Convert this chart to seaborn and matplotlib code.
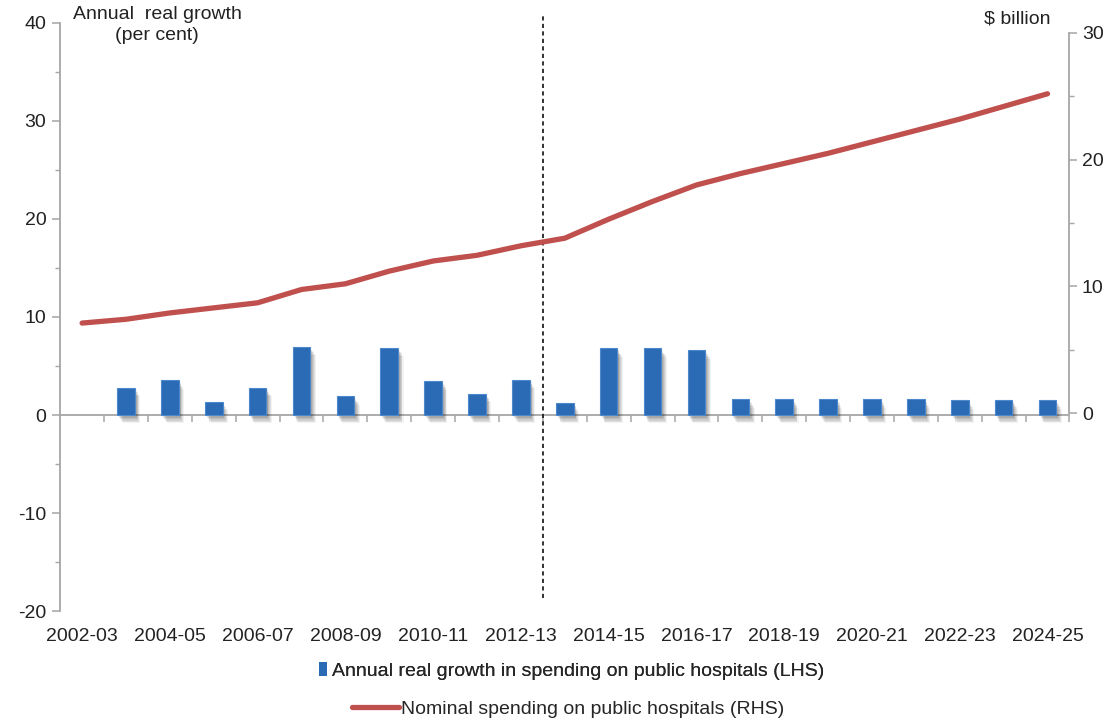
import numpy as np
import pandas as pd
import matplotlib
matplotlib.use("Agg")
import matplotlib.pyplot as plt
import matplotlib.patheffects as pe
from matplotlib.patches import Patch
from matplotlib.lines import Line2D
from matplotlib.ticker import MultipleLocator, FixedLocator
import seaborn as sns

years = ["2002-03", "2003-04", "2004-05", "2005-06", "2006-07", "2007-08",
         "2008-09", "2009-10", "2010-11", "2011-12", "2012-13", "2013-14",
         "2014-15", "2015-16", "2016-17", "2017-18", "2018-19", "2019-20",
         "2020-21", "2021-22", "2022-23", "2023-24", "2024-25"]
real_growth = [np.nan, 2.75, 3.55, 1.35, 2.75, 6.95, 1.9, 6.85, 3.45, 2.15,
               3.6, 1.2, 6.8, 6.8, 6.6, 1.6, 1.6, 1.6, 1.6, 1.6, 1.5, 1.5, 1.5]
nominal_spend = [7.1, 7.4, 7.9, 8.3, 8.7, 9.75, 10.2, 11.2, 12.0, 12.45, 13.2,
                 13.8, 15.3, 16.7, 18.0, 18.9, 19.7, 20.5, 21.4, 22.3, 23.2,
                 24.2, 25.2]
tick_labels = years[::2]
bar_label = "Annual real growth in spending on public hospitals (LHS)"
line_label = "Nominal spending on public hospitals (RHS)"

BLUE = "#2B6AB5"
BLUE_EDGE = "#4D88CC"
RED = "#C0504D"
GREY = "#A6A6A6"
TXT = "#222222"
FS = 14

sns.set_theme(style="white")
plt.rcParams["font.family"] = ["Liberation Sans", "DejaVu Sans"]
plt.rcParams["font.size"] = FS
plt.rcParams["axes.unicode_minus"] = False

df = pd.DataFrame({"year": years, "growth": real_growth,
                   "pos": np.arange(len(years)), "spend": nominal_spend})

fig = plt.figure(figsize=(11.14, 7.22), dpi=100)
ax = fig.add_axes([0.054, 0.1537, 0.906, 0.8145])

sns.barplot(data=df, x="year", y="growth", color=BLUE, saturation=1,
            width=0.4, ax=ax, zorder=3, edgecolor=BLUE_EDGE, linewidth=0.8)
shadow = [pe.SimplePatchShadow(offset=(dx, dy), shadow_rgbFace="#000000", alpha=a)
          for dx, dy, a in [(4.0, -6.0, 0.05), (3.2, -5.0, 0.07), (2.6, -4.0, 0.08),
                            (2.0, -3.0, 0.09), (1.4, -2.0, 0.09), (0.8, -1.0, 0.08)]]
for p in ax.patches:
    p.set_path_effects(shadow + [pe.Normal()])

ax.set_xlim(-0.5, len(years) - 0.5)
ax.set_ylim(-20, 40)
ax.yaxis.set_major_locator(MultipleLocator(10))
ax.yaxis.set_minor_locator(MultipleLocator(5))
ax.set_xlabel("")
ax.set_ylabel("")

for s in ["top", "right"]:
    ax.spines[s].set_visible(False)
ax.spines["bottom"].set_position(("data", 0))
for s in ["left", "bottom"]:
    ax.spines[s].set_color(GREY)
    ax.spines[s].set_linewidth(1.3)

ax.xaxis.set_major_locator(FixedLocator(np.arange(0.5, len(years), 1.0)))
ax.tick_params(axis="x", which="major", direction="out", length=5, width=1.1,
               color=GREY, labelbottom=False, bottom=True)
ax.tick_params(axis="y", which="major", direction="out", length=6, width=1.1,
               color=GREY, labelsize=FS, pad=4, left=True, labelcolor=TXT)
ax.tick_params(axis="y", which="minor", direction="out", length=3.5, width=1.0,
               color=GREY, left=True)

sec = ax.secondary_xaxis(0)
sec.set_xticks(np.arange(0, len(years), 2))
sec.set_xticklabels(tick_labels)
sec.tick_params(length=0, pad=12, labelsize=FS, labelcolor=TXT)
sec.spines["bottom"].set_visible(False)

ax2 = ax.twinx()
sns.lineplot(data=df, x="pos", y="spend", color=RED, linewidth=3.8, ax=ax2,
             solid_capstyle="round", solid_joinstyle="round", zorder=4)
ax2.set_ylim(-15.63, 30.79)
ax2.set_xlim(-0.5, len(years) - 0.5)
ax2.set_ylabel("")
ax2.set_xlabel("")
ax2.yaxis.set_major_locator(FixedLocator([0, 10, 20, 30]))
ax2.yaxis.set_minor_locator(FixedLocator([5, 15, 25]))
for s in ["top", "left", "bottom"]:
    ax2.spines[s].set_visible(False)
ax2.spines["right"].set_color(GREY)
ax2.spines["right"].set_linewidth(1.3)
ax2.spines["right"].set_bounds(0, 30)
ax2.tick_params(axis="y", which="major", direction="out", length=6, width=1.1,
                color=GREY, labelsize=FS, pad=3, right=True, labelcolor=TXT)
ax2.tick_params(axis="y", which="minor", direction="out", length=3.5, width=1.0,
                color=GREY, right=True)
ax2.tick_params(axis="x", bottom=False, labelbottom=False)

# projection divider
ax.axvline(10.5, ymin=0.022, ymax=1.014, color="#111111", linestyle=(0, (2.5, 2)),
           linewidth=1.2, clip_on=False, zorder=5)

fig.text(0.141, 0.991, "Annual  real growth\n(per cent)", ha="center", va="top",
         fontsize=FS, color=TXT, linespacing=1.25)
fig.text(0.943, 0.985, "$ billion", ha="right", va="top", fontsize=FS,
         color=TXT)

leg1 = fig.legend(handles=[Patch(facecolor=BLUE, edgecolor="none", label=bar_label)],
                  loc="center", bbox_to_anchor=(0.513, 0.071), frameon=False,
                  fontsize=FS, handlelength=0.4, handleheight=0.75,
                  handletextpad=0.25, borderpad=0)
leg2 = fig.legend(handles=[Line2D([0], [0], color=RED, linewidth=3.8, label=line_label)],
                  loc="center", bbox_to_anchor=(0.510, 0.018), frameon=False,
                  fontsize=FS, handlelength=2.4, handletextpad=0.1, borderpad=0)
fig.add_artist(leg1)

fig.savefig("out.png", dpi=100)
